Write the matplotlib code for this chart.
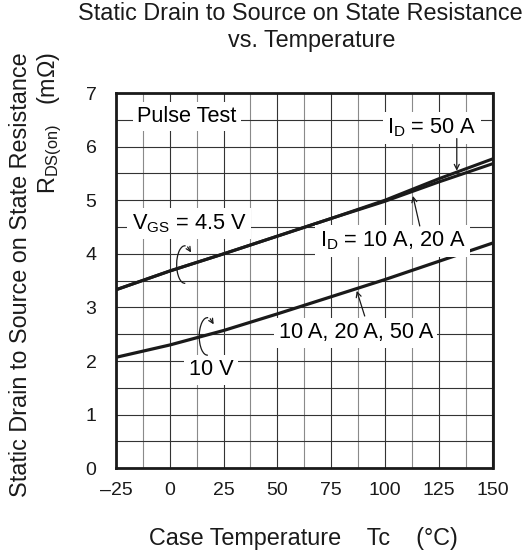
import matplotlib
matplotlib.use('Agg')

import numpy as np
import matplotlib.pyplot as plt
from matplotlib.patches import Arc

plt.rcParams['font.family'] = ['Liberation Sans', 'DejaVu Sans']
plt.rcParams['mathtext.default'] = 'regular'

# --- data ---
temp_c = [-25, 0, 25, 50, 75, 100, 125, 150]
r_vgs45_id50 = [3.33, 3.68, 4.00, 4.33, 4.66, 5.00, 5.40, 5.77]
r_vgs45_id10_20 = [3.33, 3.68, 4.00, 4.33, 4.66, 4.98, 5.34, 5.68]
r_vgs10 = [2.07, 2.30, 2.57, 2.88, 3.20, 3.52, 3.86, 4.20]

x_ticks = [-25, 0, 25, 50, 75, 100, 125, 150]
x_tick_labels = ['\u201325', '0', '25', '50', '75', '100', '125', '150']
y_ticks = [0, 1, 2, 3, 4, 5, 6, 7]

FS_TICK = 14
FS_NOTE = 15.7
FS_LABEL = 16.8
INK = '#1a1a1a'
box = dict(boxstyle='square,pad=0.2', fc='white', ec='none')

fig = plt.figure(figsize=(5.32, 5.55), dpi=100)
ax = fig.add_axes([116 / 532, 1 - 468.3 / 555, 376.5 / 532, 375.3 / 555])

ax.plot(temp_c, r_vgs45_id50, color=INK, lw=2.2, zorder=3)
ax.plot(temp_c, r_vgs45_id10_20, color=INK, lw=2.2, zorder=3)
ax.plot(temp_c, r_vgs10, color=INK, lw=2.3, zorder=3)

ax.set_xlim(-25, 150)
ax.set_ylim(0, 7)
ax.set_xticks(x_ticks)
ax.set_xticklabels(x_tick_labels)
ax.set_yticks(y_ticks)
ax.set_xticks([t + 12.5 for t in x_ticks[:-1]], minor=True)
ax.set_yticks([t + 0.5 for t in y_ticks[:-1]], minor=True)
ax.tick_params(which='both', length=0)
ax.tick_params(axis='x', labelsize=FS_TICK, pad=10, labelcolor=INK)
ax.tick_params(axis='y', labelsize=FS_TICK, pad=14, labelcolor=INK)
ax.yaxis.grid(True, which='both', color='#333333', lw=0.8, zorder=1)
ax.xaxis.grid(True, which='major', color='#333333', lw=0.8, zorder=1)
ax.xaxis.grid(True, which='minor', color='#8a8a8a', lw=0.8, zorder=1)
for s in ax.spines.values():
    s.set_linewidth(2.0)
    s.set_color(INK)
    s.set_zorder(4)

# labels inside the plot
ax.text(-15.2, 6.56, 'Pulse Test', fontsize=FS_NOTE, va='center', ha='left', bbox=box, zorder=5)
ax.text(121.8, 6.35, 'I$_D$ = 50 A', fontsize=FS_NOTE, va='center', ha='center', bbox=box, zorder=5)
ax.text(8.9, 4.56, 'V$_{GS}$ = 4.5 V', fontsize=FS_NOTE, va='center', ha='center', bbox=box, zorder=5)
ax.text(103.7, 4.24, 'I$_D$ = 10 A, 20 A', fontsize=FS_NOTE, va='center', ha='center', bbox=box, zorder=5)
ax.text(86.5, 2.53, '10 A, 20 A, 50 A', fontsize=FS_NOTE, va='center', ha='center', bbox=box, zorder=5)
ax.text(19.1, 1.84, '10 V', fontsize=FS_NOTE, va='center', ha='center', bbox=box, zorder=5)

arr = dict(arrowstyle='->', color=INK, lw=0.9, shrinkA=0, shrinkB=0, mutation_scale=9)
ax.annotate('', xy=(133.4, 5.55), xytext=(133.4, 6.15), arrowprops=arr, zorder=6)
ax.annotate('', xy=(113.0, 5.08), xytext=(116.2, 4.52), arrowprops=arr, zorder=6)
ax.annotate('', xy=(86.9, 3.31), xytext=(90.6, 2.84), arrowprops=arr, zorder=6)

# curled arrows marking which curve belongs to which V_GS
for cx, cy in [(7.0, 3.80), (17.5, 2.46)]:
    w, h = 7.6, 0.70
    ax.add_patch(Arc((cx, cy), w, h, theta1=45, theta2=300, color=INK, lw=0.9, zorder=6))
    t0, t1 = np.radians(70), np.radians(40)
    ax.annotate('', xy=(cx + w / 2 * np.cos(t1), cy + h / 2 * np.sin(t1)),
                xytext=(cx + w / 2 * np.cos(t0), cy + h / 2 * np.sin(t0)),
                arrowprops=dict(arrowstyle='->', color=INK, lw=0.9,
                                shrinkA=0, shrinkB=0, mutation_scale=8),
                zorder=6)

# titles / axis labels
fig.text(300 / 532, 1 - 14 / 555, 'Static Drain to Source on State Resistance',
         fontsize=FS_LABEL, ha='center', va='center', color=INK)
fig.text(312 / 532, 1 - 41 / 555, 'vs. Temperature',
         fontsize=FS_LABEL, ha='center', va='center', color=INK)
fig.text(21 / 532, 1 - 52 / 555, 'Static Drain to Source on State Resistance',
         fontsize=FS_LABEL, rotation=90, ha='center', va='top', color=INK)
fig.text(50 / 532, 1 - 52 / 555, 'R$_{DS(on)}$   (m\u03a9)',
         fontsize=FS_LABEL, rotation=90, ha='center', va='top', color=INK)
fig.text(303 / 532, 1 - 538 / 555, 'Case Temperature    Tc    (\u00b0C)',
         fontsize=FS_LABEL, ha='center', va='center', color=INK)

fig.savefig('out.png', dpi=100)
